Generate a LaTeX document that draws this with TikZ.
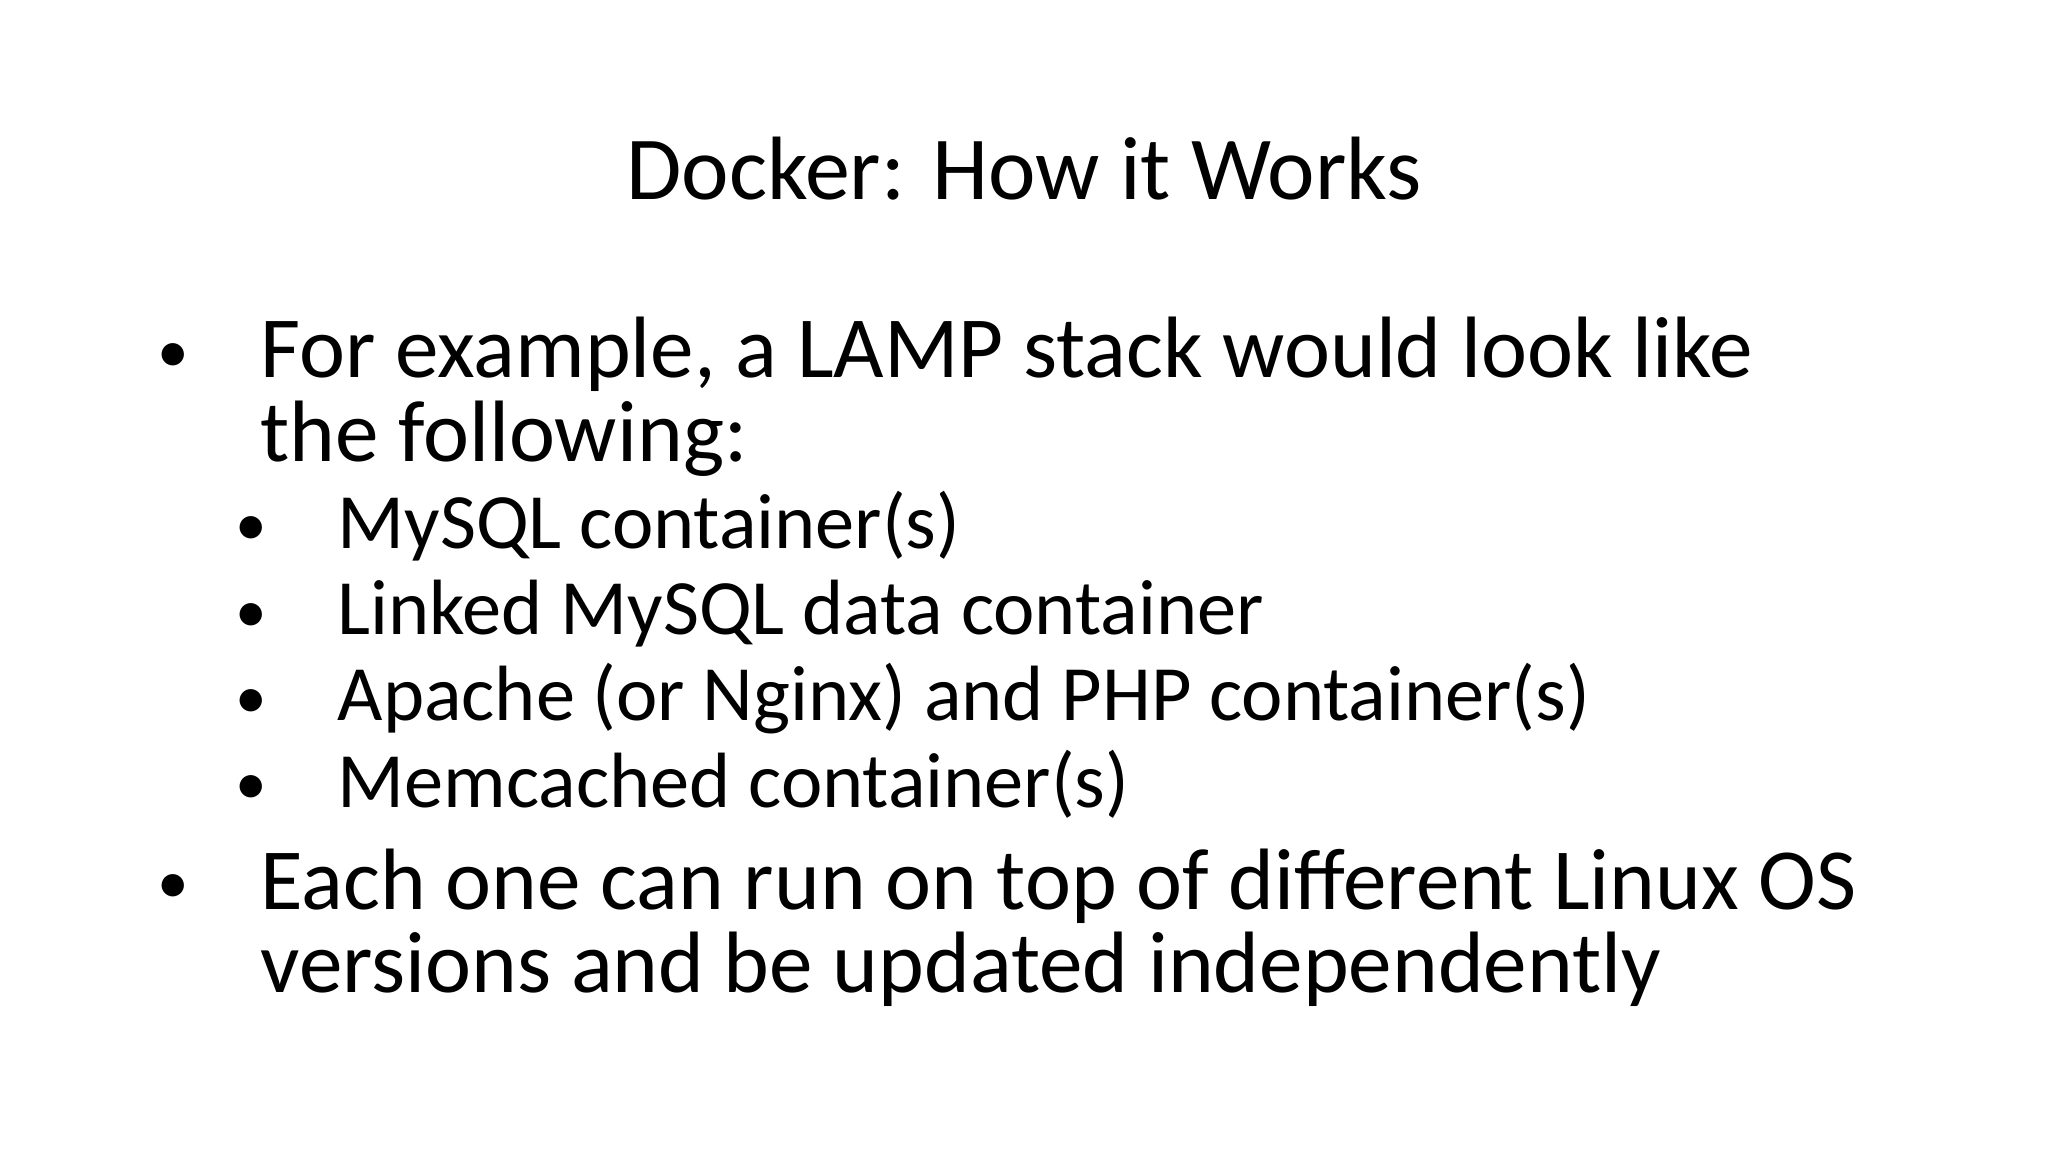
\documentclass[tikz,border=0pt]{standalone}
\usepackage{fontspec}
\setmainfont{Carlito}
\begin{document}
\begin{tikzpicture}[x=0.01306cm,y=-0.01306cm,
  t/.style={inner sep=0pt,anchor=base west},
  title/.style={inner sep=0pt,anchor=base,font=\fontsize{25.6}{30}\selectfont},
  body/.style={t,font=\fontsize{24.8}{28}\selectfont},
  sub/.style={t,font=\fontsize{22.3}{26}\selectfont},
  bul/.style={t,font=\fontsize{18}{20}\selectfont}]
\useasboundingbox[fill=white] (0,0) rectangle (1568,882);
\node[title] (ttl) at (784,153) {Docker: How it Works};
\node[bul] (b1) at (120,285) {•};
\node[body] (l1) at (199,289) {For example, a LAMP stack would look like};
\node[body] (l2) at (199,353) {the following:};
\node[bul] (s1b) at (180,418) {•};
\node[sub] (s1) at (258,420) {MySQL container(s)};
\node[bul] (s2b) at (180,484) {•};
\node[sub] (s2) at (258,486) {Linked MySQL data container};
\node[bul] (s3b) at (180,550) {•};
\node[sub] (s3) at (258,552) {Apache (or Nginx) and PHP container(s)};
\node[bul] (s4b) at (180,616) {•};
\node[sub] (s4) at (258,618) {Memcached container(s)};
\node[bul] (b2) at (120,692) {•};
\node[body] (l3) at (199,696) {Each one can run on top of different Linux OS};
\node[body] (l4) at (199,760) {versions and be updated independently};
\end{tikzpicture}
\end{document}
